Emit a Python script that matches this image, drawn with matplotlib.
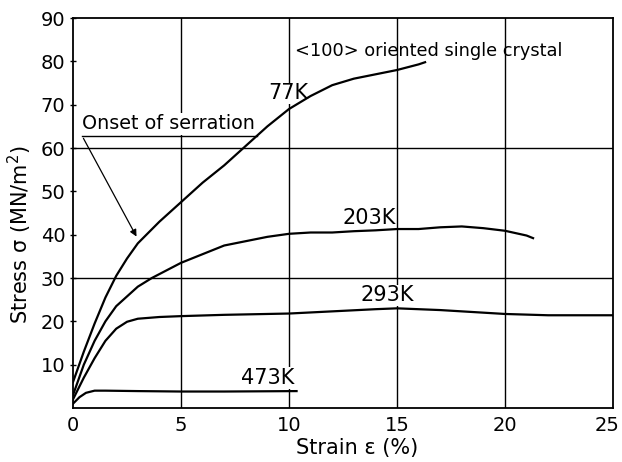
import matplotlib
matplotlib.use("Agg")
from matplotlib import pyplot as plt
from matplotlib.transforms import offset_copy

# stress-strain curves (strain %, stress MN/m^2)
strain_77 = [0, 0.5, 1, 1.5, 2, 2.5, 3, 3.5, 4, 5, 6, 7, 8, 9, 10, 11, 12, 13, 14, 15, 16, 16.3]
stress_77 = [6, 13, 19.5, 25.5, 30.5, 34.5, 38, 40.5, 43, 47.5, 52, 56, 60.5, 65, 69, 72, 74.5, 76, 77, 78, 79.3, 79.8]

strain_203 = [0, 0.5, 1, 1.5, 2, 3, 3.65, 5, 6, 7, 8, 9, 10, 11, 12, 13, 14, 15, 16, 17, 18, 19, 20, 21, 21.3]
stress_203 = [3, 10, 15.5, 20, 23.5, 28, 30, 33.5, 35.5, 37.5, 38.5, 39.5, 40.2, 40.5, 40.5, 40.8, 41, 41.3, 41.3, 41.7, 41.9, 41.5, 40.9, 39.8, 39.2]

strain_293 = [0, 0.5, 1, 1.5, 2, 2.5, 3, 4, 5, 7, 10, 12, 14, 15, 17, 19, 20, 22, 25]
stress_293 = [2, 7, 11.5, 15.5, 18.3, 19.9, 20.6, 21, 21.2, 21.5, 21.8, 22.3, 22.8, 23, 22.6, 22, 21.7, 21.4, 21.4]

strain_473 = [0, 0.3, 0.6, 1, 1.5, 3, 5, 7, 10.35]
stress_473 = [1, 2.5, 3.5, 4, 4, 3.9, 3.8, 3.8, 3.9]

curves = [(strain_77, stress_77), (strain_203, stress_203),
          (strain_293, stress_293), (strain_473, stress_473)]

# curve labels: text, x, y
labels = [("77K", 9.95, 72.6), ("203K", 13.7, 43.9),
          ("293K", 14.55, 26.0), ("473K", 9.0, 6.9)]

onset_line_x = [0.42, 8.5]
onset_line_y = [62.8, 62.8]
onset_arrow_tip = (3.0, 39.0)

fig = plt.figure(figsize=(6.22, 4.62), dpi=100)
ax = fig.add_axes([0.1174, 0.1169, 0.8681, 0.8441])

for xs, ys in curves:
    ax.plot(xs, ys, color="black", lw=1.6, zorder=3)

for x in [5, 10, 15, 20]:
    ax.axvline(x, color="black", lw=1.0, zorder=1)
for y in [30, 60]:
    ax.axhline(y, color="black", lw=1.0, zorder=1)

# white box hides the grid behind a label, but not the curves
for txt, x, y in labels:
    ax.text(x, y, txt, fontsize=15, ha="center", va="center", zorder=2,
            bbox=dict(facecolor="white", edgecolor="none", pad=0.5))

ax.text(10.3, 82.3, "<100> oriented single crystal", fontsize=12.8, ha="left", va="center", zorder=4)

ax.text(0.42, 65.6, "Onset of serration", fontsize=13.8, ha="left", va="center", zorder=2,
        bbox=dict(facecolor="white", edgecolor="none", pad=1))
ax.plot(onset_line_x, onset_line_y, color="black", lw=1.0, zorder=4)
ax.annotate("", xy=onset_arrow_tip, xytext=(onset_line_x[0], onset_line_y[0]),
            arrowprops=dict(arrowstyle="-|>", color="black", lw=0.9, mutation_scale=10),
            zorder=4)

ax.set_xlim(0, 25)
ax.set_ylim(0, 90)
ax.set_xticks([0, 5, 10, 15, 20, 25])
ax.set_yticks([10, 20, 30, 40, 50, 60, 70, 80, 90])
ax.tick_params(axis="x", length=0, labelsize=14, pad=6)
ax.tick_params(axis="y", direction="inout", length=5, width=1, labelsize=14, pad=3)
for s in ax.spines.values():
    s.set_linewidth(1.3)

# last x tick label sits a bit left so it stays inside the figure
last = ax.xaxis.get_major_ticks()[-1].label1
last.set_transform(offset_copy(last.get_transform(), fig=fig, x=-6, y=0, units="dots"))

ax.set_xlabel("Strain ε (%)", fontsize=15)
ax.xaxis.set_label_coords(0.526, -0.077)
ax.set_ylabel("Stress σ (MN/m$^2$)", fontsize=15)
ax.yaxis.set_label_coords(-0.072, 0.444)

fig.savefig("out.png", dpi=100)
